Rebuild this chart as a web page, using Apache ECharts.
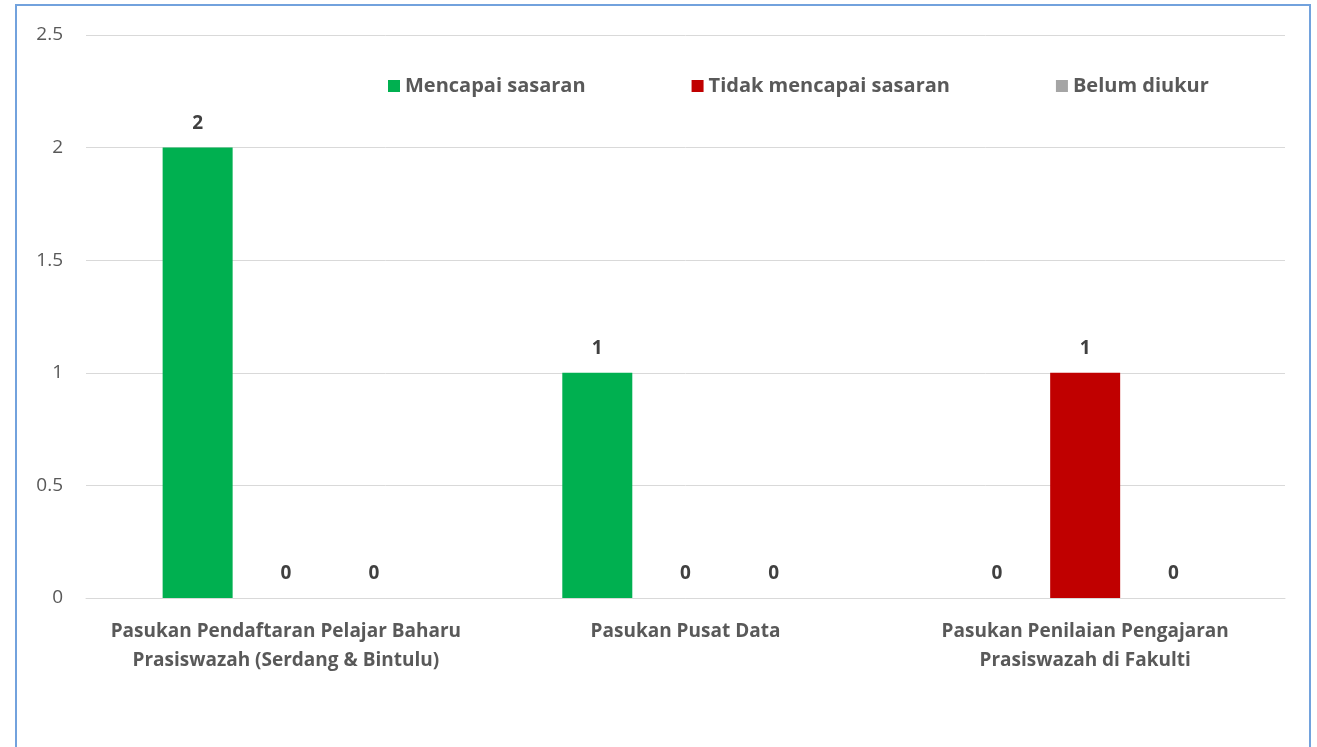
<!DOCTYPE html>
<html>
<head>
<meta charset="utf-8">
<script src="https://cdn.jsdelivr.net/npm/echarts@6/dist/echarts.min.js"></script>
<style>
html,body{margin:0;padding:0;background:#fff;}
#c{width:1317px;height:747px;}
</style>
</head>
<body>
<div id="c"></div>
<script>
const categories = [
  'Pasukan Pendaftaran Pelajar Baharu\nPrasiswazah (Serdang & Bintulu)',
  'Pasukan Pusat Data',
  'Pasukan Penilaian Pengajaran\nPrasiswazah di Fakulti'
];
const seriesNames = ['Mencapai sasaran', 'Tidak mencapai sasaran', 'Belum diukur'];
const mencapai = [2, 1, 0];
const tidakMencapai = [0, 0, 1];
const belumDiukur = [0, 0, 0];
const yTicks = { min: 0, max: 2.5, interval: 0.5 };

const FONT = 'Open Sans';
const colors = ['#00B050', '#C00000', '#A5A5A5'];
const seriesData = [mencapai, tidakMencapai, belumDiukur];

const chart = echarts.init(document.getElementById('c'));
chart.setOption({
  animation: false,
  textStyle: { fontFamily: FONT },
  color: colors,
  graphic: [{
    type: 'rect',
    shape: { x: 16, y: 5, width: 1294, height: 800 },
    style: { fill: 'none', stroke: '#72a2dd', lineWidth: 2 },
    silent: true
  }],
  legend: {
    left: 383, top: 71,
    itemWidth: 12, itemHeight: 12, itemGap: 106,
    icon: 'rect',
    textStyle: { fontFamily: FONT, fontSize: 20, fontWeight: 'bold', color: '#595959' },
    data: seriesNames
  },
  grid: { left: 86, right: 32, top: 35, bottom: 149 },
  xAxis: {
    type: 'category',
    data: categories,
    axisLine: { lineStyle: { color: '#d9d9d9', width: 1 } },
    axisTick: { show: false },
    axisLabel: {
      interval: 0, margin: 19, lineHeight: 29,
      fontFamily: FONT, fontSize: 19, fontWeight: 'bold', color: '#595959'
    }
  },
  yAxis: {
    type: 'value',
    min: yTicks.min, max: yTicks.max, interval: yTicks.interval,
    axisLine: { show: false },
    axisTick: { show: false },
    splitLine: { lineStyle: { color: '#d9d9d9', width: 1 } },
    axisLabel: { margin: 23, fontFamily: FONT, fontSize: 19, color: '#595959' }
  },
  series: seriesNames.map((n, i) => ({
    name: n,
    type: 'bar',
    data: seriesData[i],
    barWidth: 70,
    barGap: '26%',
    label: {
      show: true, position: 'top', distance: 15,
      fontFamily: FONT, fontSize: 19, fontWeight: 'bold', color: '#404040'
    }
  }))
});
</script>
</body>
</html>
